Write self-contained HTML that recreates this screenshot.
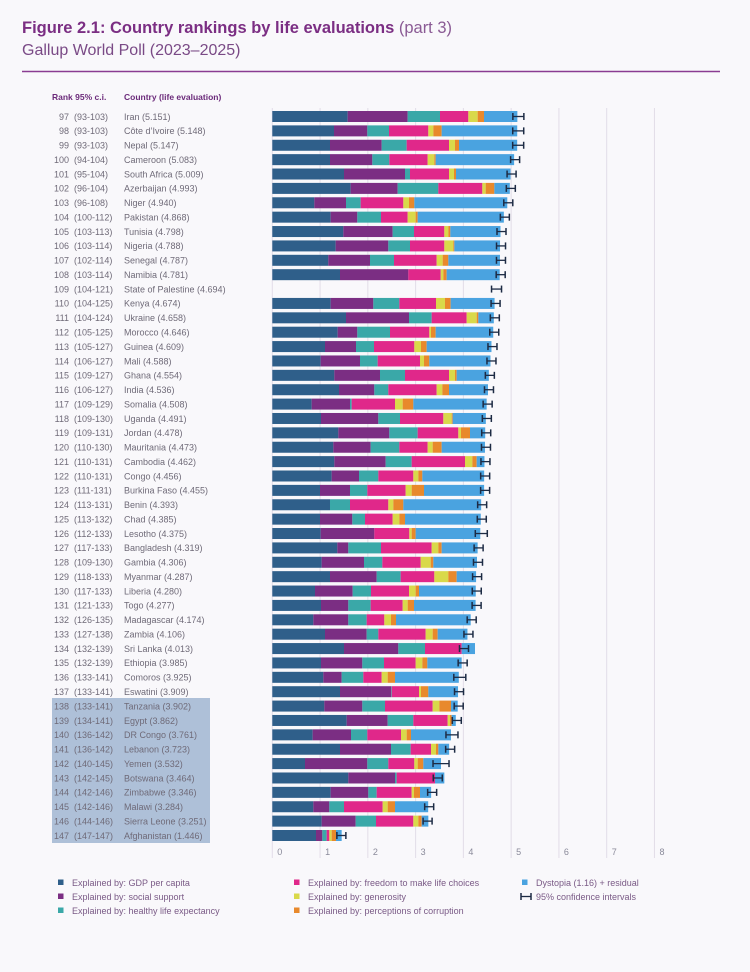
<!DOCTYPE html>
<html><head><meta charset="utf-8">
<style>
html,body{margin:0;padding:0;background:#f9f8fb;}
svg{display:block;font-family:"Liberation Sans",sans-serif;}
</style></head>
<body>
<svg id="s" width="750" height="972" viewBox="0 0 750 972" xmlns="http://www.w3.org/2000/svg">
<rect width="750" height="972" fill="#f9f8fb"/>
<text x="22" y="33" font-size="16.5" font-weight="bold" fill="#7b2e83">Figure 2.1: Country rankings by life evaluations <tspan font-weight="normal" fill="#8a5a94">(part 3)</tspan></text>
<text x="22" y="55" font-size="16" fill="#7a4a86">Gallup World Poll (2023–2025)</text>
<line x1="22" y1="71.5" x2="720" y2="71.5" stroke="#8a3c92" stroke-width="1.5"/>
<text x="52" y="100" font-size="8.5" font-weight="bold" fill="#6b2a7a">Rank  95% c.i.</text>
<text x="124" y="100" font-size="8.5" font-weight="bold" fill="#6b2a7a">Country (life evaluation)</text>
<rect x="52" y="698" width="158" height="145" fill="#aec0d8"/>
<g id="g"></g>
</svg>
<script>
var rows=[
[97,"93-103","Iran (5.151)",[248,428,525,610,638,657,748]],
[98,"93-103","Côte d’Ivoire (5.148)",[207,307,372,490,505,530,745]],
[99,"93-103","Nepal (5.147)",[195,350,425,552,570,582,745]],
[100,"94-104","Cameroon (5.083)",[195,322,373,488,508,512,740]],
[101,"95-104","South Africa (5.009)",[237,420,435,552,567,573,728]],
[102,"96-104","Azerbaijan (4.993)",[257,398,520,652,662,688,730]],
[103,"96-108","Niger (4.940)",[148,243,287,415,432,448,712]],
[104,"100-112","Pakistan (4.868)",[197,277,348,428,452,458,705]],
[105,"103-113","Tunisia (4.798)",[235,383,447,538,550,556,700]],
[106,"103-114","Nigeria (4.788)",[212,370,435,538,565,568,698]],
[107,"102-114","Senegal (4.787)",[190,315,387,515,533,550,697]],
[108,"103-114","Namibia (4.781)",[225,430,430,527,535,545,697]],
[109,"104-121","State of Palestine (4.694)",null],
[110,"104-125","Kenya (4.674)",[197,325,403,513,540,557,680]],
[111,"104-124","Ukraine (4.658)",[243,432,500,605,635,640,680]],
[112,"105-125","Morocco (4.646)",[218,277,375,493,498,512,678]],
[113,"105-127","Guinea (4.609)",[180,273,327,448,468,485,670]],
[114,"106-127","Mali (4.588)",[167,285,338,465,477,493,665]],
[115,"109-127","Ghana (4.554)",[208,345,420,552,570,575,663]],
[116,"106-127","India (4.536)",[222,328,370,515,532,552,665]],
[117,"109-129","Somalia (4.508)",[140,255,260,390,413,445,655]],
[118,"109-130","Uganda (4.491)",[168,340,405,535,560,563,655]],
[119,"109-131","Jordan (4.478)",[220,373,458,580,588,615,653]],
[120,"110-130","Mauritania (4.473)",[205,317,403,488,503,530,655]],
[121,"110-131","Cambodia (4.462)",[208,362,440,600,622,635,652]],
[122,"110-131","Congo (4.456)",[200,282,340,445,460,472,645]],
[123,"111-131","Burkina Faso (4.455)",[165,255,307,422,440,477,645]],
[124,"113-131","Benin (4.393)",[195,195,255,370,385,415,633]],
[125,"113-132","Chad (4.385)",[165,262,300,383,403,420,633]],
[126,"112-133","Lesotho (4.375)",[167,328,328,433,440,452,625]],
[127,"117-133","Bangladesh (4.319)",[217,250,348,500,520,530,623]],
[128,"109-130","Gambia (4.306)",[170,297,352,467,497,505,620]],
[129,"118-133","Myanmar (4.287)",[195,335,407,508,550,575,610]],
[130,"117-133","Liberia (4.280)",[150,263,318,432,452,462,605]],
[131,"121-133","Togo (4.277)",[168,250,317,413,428,447,622]],
[132,"126-135","Madagascar (4.174)",[145,250,305,358,378,393,605]],
[133,"127-138","Zambia (4.106)",[180,305,340,482,503,518,600]],
[134,"132-139","Sri Lanka (4.013)",[237,400,480,590,590,590,630]],
[135,"132-139","Ethiopia (3.985)",[168,292,357,452,472,487,590]],
[136,"133-141","Comoros (3.925)",[175,230,295,350,368,390,580]],
[137,"133-141","Eswatini (3.909)",[225,378,380,462,468,490,570]],
[138,"133-141","Tanzania (3.902)",[178,292,360,503,523,558,570]],
[139,"134-141","Egypt (3.862)",[245,368,445,548,555,560,565]],
[140,"136-142","DR Congo (3.761)",[143,258,307,408,425,438,545]],
[141,"136-142","Lebanon (3.723)",[225,378,437,498,513,520,540]],
[142,"140-145","Yemen (3.532)",[120,307,370,448,458,475,528]],
[143,"142-145","Botswana (3.464)",[250,390,395,510,510,510,538]],
[144,"142-146","Zimbabwe (3.346)",[197,310,335,440,447,465,490]],
[145,"142-146","Malawi (3.284)",[145,193,237,353,368,390,480]],
[146,"144-146","Sierra Leone (3.251)",[170,272,333,445,460,470,490]],
[147,"147-147","Afghanistan (1.446)",[153,172,185,193,200,213,230]]
];
var cols=["#2f5f8a","#7b2e83","#3aa8a8","#e0288a","#d9d94a","#e8892c","#4aa3e0"];
var x0=272.3,u=47.77,h="";
for(var k=0;k<=8;k++){var gx=x0+k*u;h+='<line x1="'+gx+'" y1="108" x2="'+gx+'" y2="858" stroke="#e2dde8" stroke-width="1"/>';
h+='<text x="'+(gx+5)+'" y="855" font-size="9" fill="#8a8a9a">'+k+'</text>';}
rows.forEach(function(r,i){
 var cy=116.5+i*14.38, ty=cy+3.3;
 var tc="#6f6a78";
 h+='<text x="69" y="'+ty+'" font-size="9" fill="'+tc+'" text-anchor="end">'+r[0]+'</text>';
 h+='<text x="74" y="'+ty+'" font-size="9" fill="'+tc+'">('+r[1]+')</text>';
 h+='<text x="124" y="'+ty+'" font-size="9" fill="'+tc+'">'+r[2]+'</text>';
 var sc=parseFloat(r[2].match(/\(([\d.]+)\)/)[1]);
 var cx=x0+sc*u;
 if(r[3]){var prev=272.3;
  r[3].forEach(function(z,j){var x=265+z/3; if(j==6)x=Math.max(x,cx-1); if(x>prev){h+='<rect x="'+prev+'" y="'+(cy-5.5)+'" width="'+(x-prev)+'" height="11" fill="'+cols[j]+'"/>';} prev=Math.max(prev,x);});
 }
 var hw=(i<3?5.5:4.5); if(r[0]==109)hw=5; if(r[0]==142)hw=8; if(r[0]==140||r[0]==136||r[0]==126)hw=6;
 h+='<line x1="'+(cx-hw)+'" y1="'+cy+'" x2="'+(cx+hw)+'" y2="'+cy+'" stroke="#1d2b44" stroke-width="1.3"/>';
 h+='<line x1="'+(cx-hw)+'" y1="'+(cy-3.5)+'" x2="'+(cx-hw)+'" y2="'+(cy+3.5)+'" stroke="#1d2b44" stroke-width="1.5"/>';
 h+='<line x1="'+(cx+hw)+'" y1="'+(cy-3.5)+'" x2="'+(cx+hw)+'" y2="'+(cy+3.5)+'" stroke="#1d2b44" stroke-width="1.5"/>';
});
var leg=[[58,886,0,"Explained by: GDP per capita"],[58,900,1,"Explained by: social support"],[58,914,2,"Explained by: healthy life expectancy"],
[294,886,3,"Explained by: freedom to make life choices"],[294,900,4,"Explained by: generosity"],[294,914,5,"Explained by: perceptions of corruption"],
[522,886,6,"Dystopia (1.16) + residual"]];
leg.forEach(function(l){h+='<rect x="'+l[0]+'" y="'+(l[1]-6.5)+'" width="5.5" height="5.5" fill="'+cols[l[2]]+'"/>';
 h+='<text x="'+(l[0]+14)+'" y="'+l[1]+'" font-size="9" fill="#7a5a86">'+l[3]+'</text>';});
h+='<line x1="521" y1="896.5" x2="531" y2="896.5" stroke="#1d2b44" stroke-width="1.3"/><line x1="521" y1="893" x2="521" y2="900" stroke="#1d2b44" stroke-width="1.5"/><line x1="531" y1="893" x2="531" y2="900" stroke="#1d2b44" stroke-width="1.5"/>';
h+='<text x="536" y="900" font-size="9" fill="#7a5a86">95% confidence intervals</text>';
document.getElementById("g").innerHTML=h;
</script>
</body></html>
